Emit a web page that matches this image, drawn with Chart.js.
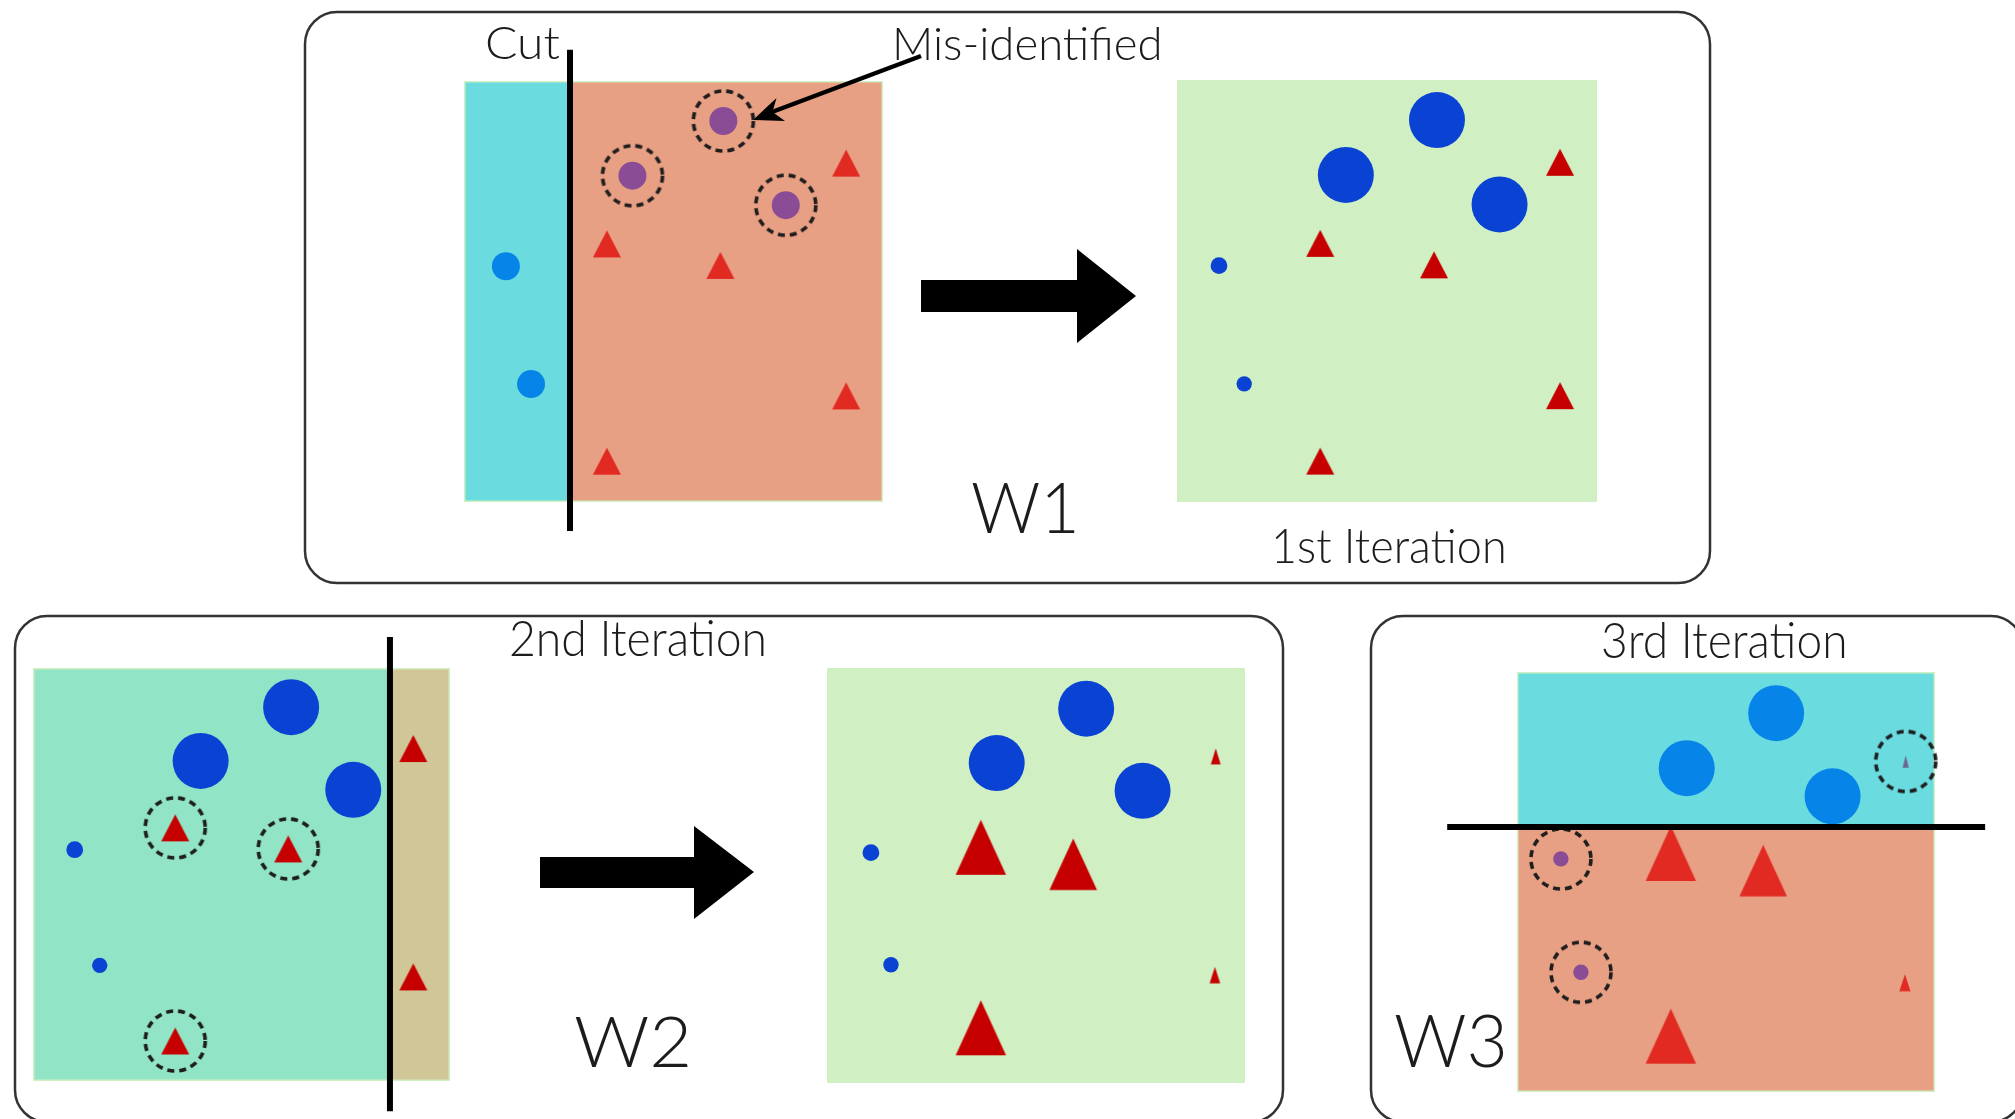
<!DOCTYPE html>
<html>
<head>
<meta charset="utf-8">
<script src="https://cdn.jsdelivr.net/npm/chart.js@4.4.1/dist/chart.umd.min.js"></script>
<style>
  html, body { margin:0; padding:0; background:#fff; width:2015px; height:1119px; overflow:hidden; position:relative; }
  .lbl { position:absolute; white-space:nowrap; line-height:1; font-family:Lato, "Open Sans", sans-serif; font-weight:300; color:#1c1c1c; transform-origin:0 0; }
  .panel { position:absolute; }
  svg { position:absolute; left:0; top:0; }
</style>
</head>
<body>
<svg id="frames" width="2015" height="1119">
  <rect x="305" y="12" width="1405" height="571" rx="32" ry="32" fill="none" stroke="#333" stroke-width="2.5"/>
  <rect x="15" y="616" width="1268" height="506" rx="32" ry="32" fill="none" stroke="#333" stroke-width="2.5"/>
  <rect x="1371" y="616" width="652" height="506" rx="32" ry="32" fill="none" stroke="#333" stroke-width="2.5"/>
</svg>
<script>
// ---------------- data ----------------
const sampleIds    = ['c1','c2','c3','c4','c5','t1','t2','t3','t4','t5'];
const sampleShape  = ['circle','circle','circle','circle','circle','triangle','triangle','triangle','triangle','triangle'];
// feature coordinates (0–10) of the ten samples as drawn in the first three squares
const featureX     = [1.0, 1.6, 6.19, 4.02, 7.68, 9.12, 3.41, 6.12, 9.12, 3.41];
const featureY     = [5.6, 2.8, 9.05, 7.75, 7.05, 8.05, 6.13, 5.62, 2.52, 0.97];
// the same samples as redrawn in the last two squares
const featureXLate = [1.05, 1.53, 6.2, 4.06, 7.55, 9.3, 3.68, 5.89, 9.28, 3.68];
const featureYLate = [5.55, 2.85, 9.02, 7.71, 7.04, 7.87, 5.68, 5.27, 2.6, 1.33];
// sample weights per stage
const weightsStart = [1, 1, 1, 1, 1, 1, 1, 1, 1, 1];
const weightsIter1 = [0.6, 0.55, 2, 2, 2, 1, 1, 1, 1, 1];
const weightsIter2 = [0.6, 0.55, 2, 2, 2, 0.35, 1.8, 1.7, 0.38, 1.8];
const weightsIter3 = [0.55, 0.55, 2, 2, 2, 0.22, 1.8, 1.7, 0.4, 1.8];
// decision stumps: W1 (x < cut => circle), W2 (x < cut => circle), W3 (y > cut => circle)
const stumpAxis    = ['x', 'x', 'y'];
const stumpCuts    = [2.53, 8.56, 6.31];
const textLabels   = ['Cut', 'Mis-identified', 'W1', '1st Iteration', '2nd Iteration', 'W2', '3rd Iteration', 'W3'];

// ---------------- styles ----------------
const FONT = 'Lato, "Open Sans", sans-serif';
const GREEN = '#d0f0c4', CYAN = '#6adce0', SALMON = '#e8a084', TEAL = '#91e4c6', TAN = '#d1c698';
const LIGHTBLUE = '#0784e8', DARKBLUE = '#0a43d3', PURPLE = '#8a4c95', RED = '#e02a22', DARKRED = '#c60000', GREYTRI = '#6d6490';

function triImage(wt, color) {
  const w = 28 * wt;
  const h = wt >= 1 ? 27 + (wt - 1) * 35 : 27 * Math.sqrt(wt);
  const c = document.createElement('canvas');
  c.width = Math.ceil(w) + 2; c.height = Math.ceil(h) + 2;
  const g = c.getContext('2d');
  const cx = c.width / 2, cy = c.height / 2;
  g.fillStyle = color;
  g.beginPath();
  g.moveTo(cx, cy - h / 2);
  g.lineTo(cx + w / 2, cy + h / 2);
  g.lineTo(cx - w / 2, cy + h / 2);
  g.closePath();
  g.fill();
  return c;
}
function ringImage() {
  const c = document.createElement('canvas');
  c.width = 70; c.height = 70;
  const g = c.getContext('2d');
  g.strokeStyle = '#1e1e1e'; g.lineWidth = 3.6; g.setLineDash([7, 5]);
  g.beginPath(); g.arc(35, 35, 30, 0, Math.PI * 2); g.stroke();
  return c;
}
const RING = ringImage();

const regionPlugin = {
  id: 'regions',
  beforeDatasetsDraw(chart) {
    const { ctx, scales: { x, y } } = chart;
    ctx.save();
    (chart.config.options.regionList || []).forEach((r, k) => {
      const x0 = x.getPixelForValue(r[0]), x1 = x.getPixelForValue(r[1]);
      const y0 = y.getPixelForValue(r[3]), y1 = y.getPixelForValue(r[2]);
      const inset = k === 0 ? 0 : 1.5;
      ctx.fillStyle = r[4];
      ctx.fillRect(x0 + inset, y0 + inset, x1 - x0 - 2 * inset, y1 - y0 - 2 * inset);
    });
    ctx.restore();
  }
};

const panels = [
  { left:464, top:81, w:419, h:421, xs:featureX, ys:featureY, wts:weightsStart, stump:0, ext:[-0.69, 10.74],
    sides:[CYAN, SALMON], pal:{ cOk:LIGHTBLUE, cBad:PURPLE, tOk:RED, tBad:RED } },
  { left:1177, top:80, w:420, h:422, xs:featureX, ys:featureY, wts:weightsIter1, stump:null,
    pal:{ cOk:DARKBLUE, cBad:DARKBLUE, tOk:DARKRED, tBad:DARKRED } },
  { left:33, top:668, w:417, h:413, xs:featureX, ys:featureY, wts:weightsIter1, stump:1, ext:[-0.73, 10.75],
    sides:[TEAL, TAN], pal:{ cOk:DARKBLUE, cBad:DARKBLUE, tOk:DARKRED, tBad:DARKRED } },
  { left:827, top:668, w:418, h:415, xs:featureXLate, ys:featureYLate, wts:weightsIter2, stump:null,
    pal:{ cOk:DARKBLUE, cBad:DARKBLUE, tOk:DARKRED, tBad:DARKRED } },
  { left:1517, top:672, w:418, h:420, xs:featureXLate, ys:featureYLate, wts:weightsIter3, stump:2, ext:[-1.67, 11.2],
    sides:[CYAN, SALMON], pal:{ cOk:LIGHTBLUE, cBad:PURPLE, tOk:RED, tBad:GREYTRI } }
];

function buildPanel(p) {
  const M = 80;
  const ux = p.w / 10, uy = p.h / 10;
  const W = p.w + 2 * M, H = p.h + 2 * M;
  const wrap = document.createElement('div');
  wrap.className = 'panel';
  wrap.style.left = (p.left - M) + 'px'; wrap.style.top = (p.top - M) + 'px';
  wrap.style.width = W + 'px'; wrap.style.height = H + 'px';
  const cv = document.createElement('canvas');
  cv.width = W; cv.height = H; cv.style.width = W + 'px'; cv.style.height = H + 'px';
  wrap.appendChild(cv);
  document.body.appendChild(wrap);

  const hasStump = p.stump !== null;
  const axis = hasStump ? stumpAxis[p.stump] : null;
  const cut = hasStump ? stumpCuts[p.stump] : null;
  function predictedCircle(i) {
    if (axis === 'x') return p.xs[i] < cut;
    return p.ys[i] > cut;
  }
  function wrong(i) {
    if (!hasStump) return false;
    return predictedCircle(i) !== (sampleShape[i] === 'circle');
  }
  function colorFor(i) {
    const bad = wrong(i);
    if (sampleShape[i] === 'circle') return bad ? p.pal.cBad : p.pal.cOk;
    return bad ? p.pal.tBad : p.pal.tOk;
  }

  const idx = sampleIds.map((_, i) => i);
  const circ = idx.filter(i => sampleShape[i] === 'circle');
  const tri = idx.filter(i => sampleShape[i] === 'triangle');
  const bad = idx.filter(i => wrong(i));

  const regions = [[0, 10, 0, 10, GREEN]];
  if (hasStump) {
    if (axis === 'x') {
      regions.push([0, cut, 0, 10, p.sides[0]]);
      regions.push([cut, 10, 0, 10, p.sides[1]]);
    } else {
      regions.push([0, 10, cut, 10, p.sides[0]]);
      regions.push([0, 10, 0, cut, p.sides[1]]);
    }
  }

  const datasets = [];
  if (hasStump) {
    const line = axis === 'x'
      ? [{ x: cut, y: p.ext[0] }, { x: cut, y: p.ext[1] }]
      : [{ x: p.ext[0], y: cut }, { x: p.ext[1], y: cut }];
    datasets.push({ label:'stump', data: line, showLine: true, borderColor:'#000', borderWidth: 6,
      borderCapStyle:'butt', pointRadius: 0, order: 0 });
    datasets.push({ label:'misclassified', data: bad.map(i => ({ x: p.xs[i], y: p.ys[i] })),
      pointStyle: RING, pointRadius: 10, pointBorderWidth: 0, order: 1 });
  }
  datasets.push({ label:'circles', data: circ.map(i => ({ x: p.xs[i], y: p.ys[i] })),
    pointStyle:'circle', pointRadius: circ.map(i => 14 * p.wts[i]),
    pointBackgroundColor: circ.map(i => colorFor(i)), pointBorderWidth: 0, pointBorderColor:'rgba(0,0,0,0)', order: 2 });
  datasets.push({ label:'triangles', data: tri.map(i => ({ x: p.xs[i], y: p.ys[i] })),
    pointStyle: tri.map(i => triImage(p.wts[i], colorFor(i))), pointRadius: 10, pointBorderWidth: 0, order: 2 });

  new Chart(cv, {
    type: 'scatter',
    data: { datasets },
    options: {
      responsive: false, animation: false, devicePixelRatio: 1, events: [],
      layout: { padding: 0, autoPadding: false },
      regionList: regions,
      plugins: { legend: { display: false }, tooltip: { enabled: false } },
      scales: {
        x: { type: 'linear', display: false, bounds: 'data', min: -M / ux, max: 10 + M / ux },
        y: { type: 'linear', display: false, bounds: 'data', min: -M / uy, max: 10 + M / uy }
      }
    },
    plugins: [regionPlugin]
  });
}
panels.forEach(buildPanel);

// ---------------- arrows (on top) ----------------
const svgNS = 'http://www.w3.org/2000/svg';
const overlaySvg = document.createElementNS(svgNS, 'svg');
overlaySvg.setAttribute('width', '2015'); overlaySvg.setAttribute('height', '1119');
overlaySvg.innerHTML =
  '<polygon points="921,280 1077,280 1077,249 1136,296 1077,343 1077,312 921,312" fill="#000"/>' +
  '<polygon points="540,857 694,857 694,826 754,872 694,919 694,888 540,888" fill="#000"/>' +
  '<line x1="921" y1="56" x2="772" y2="112" stroke="#000" stroke-width="4.5"/>' +
  '<polygon points="753,120 776.5,98 772.5,112 785,121" fill="#000"/>';
document.body.appendChild(overlaySvg);

// ---------------- text ----------------
const mctx = document.createElement('canvas').getContext('2d');
function placeText(text, left, right, capTop, baseline) {
  mctx.font = '300 100px ' + FONT;
  const capRatio = mctx.measureText('H').actualBoundingBoxAscent / 100;
  const fs = (baseline - capTop) / capRatio;
  mctx.font = '300 ' + fs + 'px ' + FONT;
  const m = mctx.measureText(text);
  const inkL = -m.actualBoundingBoxLeft, inkR = m.actualBoundingBoxRight;
  const s = (right - left) / (inkR - inkL);
  const el = document.createElement('div');
  el.className = 'lbl';
  el.style.fontSize = fs + 'px';
  el.textContent = text;
  const mk = document.createElement('span');
  mk.style.cssText = 'display:inline-block;width:0;height:0;vertical-align:baseline';
  el.appendChild(mk);
  el.style.left = '0px'; el.style.top = '0px';
  document.body.appendChild(el);
  const b = mk.offsetTop;
  el.style.left = (left - inkL * s) + 'px';
  el.style.top = (baseline - b) + 'px';
  el.style.transform = 'scaleX(' + s + ')';
}
const textBoxes = [
  [487, 559, 26, 59],
  [896, 1159, 28, 60],
  [972, 1075, 482, 533],
  [1275, 1504, 529, 563],
  [511, 764, 620, 656],
  [575, 688, 1016, 1067],
  [1603, 1845, 623, 658],
  [1395, 1504, 1015, 1067]
];
textLabels.forEach((t, i) => placeText(t, ...textBoxes[i]));
</script>
</body>
</html>
